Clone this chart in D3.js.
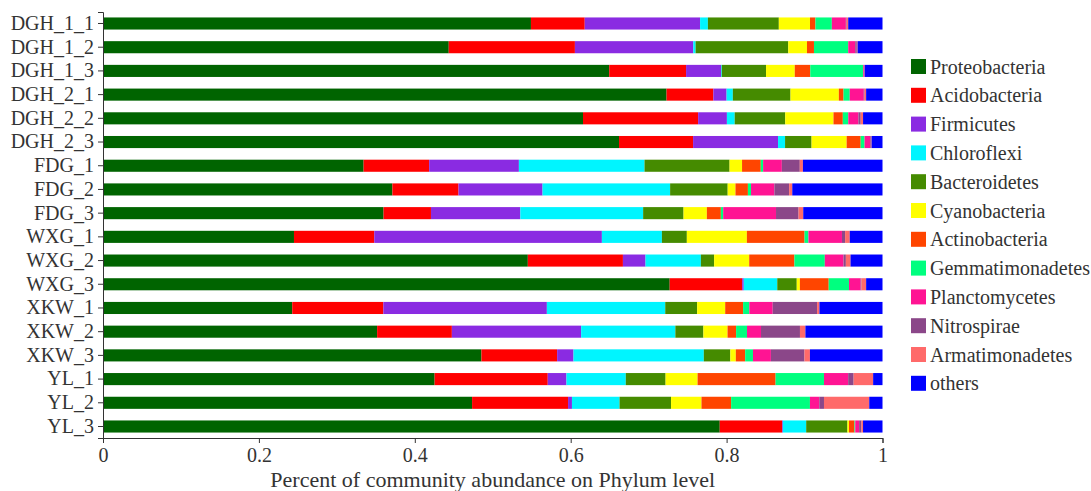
<!DOCTYPE html>
<meta charset="utf-8">
<style>
  body { margin: 0; background: #fff; }
  text { font-family: "Liberation Serif", "Times New Roman", serif; fill: #333; }
  .axis path, .axis line { stroke: #333; }
</style>
<body>
<script src="https://d3js.org/d3.v7.min.js"></script>
<script>
var samples = ["DGH_1_1","DGH_1_2","DGH_1_3","DGH_2_1","DGH_2_2","DGH_2_3",
  "FDG_1","FDG_2","FDG_3","WXG_1","WXG_2","WXG_3",
  "XKW_1","XKW_2","XKW_3","YL_1","YL_2","YL_3"];

var phyla = ["Proteobacteria","Acidobacteria","Firmicutes","Chloroflexi","Bacteroidetes",
  "Cyanobacteria","Actinobacteria","Gemmatimonadetes","Planctomycetes","Nitrospirae",
  "Armatimonadetes","others"];

var colors = ["#006400","#ff0000","#8a2be2","#00f5ff","#458b00","#ffff00",
  "#ff4500","#00ff7f","#ff1493","#8b4789","#ff6a6a","#0000ff"];

// one array per phylum, in sample order
var Proteobacteria   = [0.549,0.444,0.652,0.723,0.617,0.662,0.334,0.372,0.361,0.245,0.545,0.727,0.243,0.352,0.485,0.425,0.473,0.792];
var Acidobacteria    = [0.069,0.162,0.099,0.060,0.148,0.095,0.084,0.085,0.061,0.103,0.122,0.093,0.117,0.096,0.097,0.145,0.123,0.080];
var Firmicutes       = [0.148,0.152,0.045,0.017,0.037,0.109,0.115,0.108,0.115,0.292,0.029,0.002,0.210,0.166,0.021,0.024,0.005,0.001];
var Chloroflexi      = [0.010,0.003,0.001,0.008,0.010,0.009,0.161,0.164,0.158,0.077,0.071,0.043,0.152,0.121,0.167,0.076,0.061,0.030];
var Bacteroidetes    = [0.091,0.119,0.057,0.074,0.065,0.034,0.109,0.074,0.052,0.032,0.017,0.025,0.041,0.036,0.034,0.051,0.066,0.053];
var Cyanobacteria    = [0.040,0.024,0.037,0.062,0.062,0.045,0.016,0.010,0.030,0.077,0.045,0.004,0.036,0.031,0.007,0.041,0.039,0.002];
var Actinobacteria   = [0.007,0.009,0.020,0.006,0.012,0.018,0.024,0.016,0.018,0.074,0.058,0.037,0.023,0.011,0.012,0.100,0.038,0.007];
var Gemmatimonadetes = [0.021,0.044,0.068,0.008,0.007,0.005,0.003,0.004,0.003,0.005,0.039,0.026,0.008,0.014,0.010,0.062,0.101,0.001];
var Planctomycetes   = [0.018,0.009,0.001,0.018,0.013,0.007,0.024,0.030,0.068,0.043,0.024,0.015,0.030,0.018,0.023,0.031,0.012,0.005];
var Nitrospirae      = [0.001,0.002,0.000,0.001,0.003,0.001,0.023,0.019,0.029,0.004,0.003,0.001,0.057,0.050,0.043,0.007,0.006,0.003];
var Armatimonadetes  = [0.002,0.001,0.001,0.002,0.003,0.001,0.004,0.004,0.006,0.006,0.006,0.006,0.003,0.007,0.007,0.025,0.058,0.002];
var others           = [0.044,0.032,0.023,0.021,0.025,0.014,0.102,0.116,0.102,0.042,0.041,0.021,0.081,0.099,0.093,0.012,0.017,0.025];

var series = [Proteobacteria,Acidobacteria,Firmicutes,Chloroflexi,Bacteroidetes,Cyanobacteria,
  Actinobacteria,Gemmatimonadetes,Planctomycetes,Nitrospirae,Armatimonadetes,others];

var xTicks = [0, 0.2, 0.4, 0.6, 0.8, 1];

var width = 1091, height = 491;
var plotLeft = 103, plotRight = 882.5, plotTop = 12, plotBottom = 438;

var rows = samples.map(function(s, i) {
  var r = { sample: s };
  phyla.forEach(function(p, j) { r[p] = series[j][i]; });
  return r;
});

var stack = d3.stack().keys(phyla).offset(d3.stackOffsetExpand);
var layers = stack(rows);

var x = d3.scaleLinear().domain([0, 1]).range([plotLeft, plotRight]);
var y = d3.scaleBand().domain(samples).range([plotTop, plotBottom])
  .paddingInner(0.49).paddingOuter(0.23);
var color = d3.scaleOrdinal().domain(phyla).range(colors);

var svg = d3.select("body").append("svg")
  .attr("width", width)
  .attr("height", height);

svg.append("g")
  .selectAll("g")
  .data(layers)
  .join("g")
  .attr("fill", function(d) { return color(d.key); })
  .selectAll("rect")
  .data(function(d) { return d; })
  .join("rect")
  .attr("x", function(d) { return x(d[0]); })
  .attr("width", function(d) { return Math.max(0, x(d[1]) - x(d[0])); })
  .attr("y", function(d) { return y(d.data.sample); })
  .attr("height", y.bandwidth());

var yAxis = svg.append("g")
  .attr("class", "axis")
  .attr("transform", "translate(" + plotLeft + ",0)")
  .call(d3.axisLeft(y).tickSize(5).tickPadding(4));
yAxis.selectAll("text").style("font-size", "20px");

var xAxis = svg.append("g")
  .attr("class", "axis")
  .attr("transform", "translate(0," + plotBottom + ")")
  .call(d3.axisBottom(x).tickValues(xTicks).tickFormat(d3.format("")).tickSize(5).tickPadding(5));
xAxis.selectAll("text").style("font-size", "20px");

svg.append("text")
  .attr("x", (plotLeft + plotRight) / 2)
  .attr("y", 487)
  .attr("text-anchor", "middle")
  .style("font-size", "22px")
  .text("Percent of community abundance on Phylum level");

var legend = svg.append("g")
  .attr("transform", "translate(911,59)")
  .selectAll("g")
  .data(phyla)
  .join("g")
  .attr("transform", function(d, i) { return "translate(0," + (i * 28.8) + ")"; });

legend.append("rect")
  .attr("width", 15)
  .attr("height", 15)
  .attr("fill", function(d) { return color(d); });

legend.append("text")
  .attr("x", 19)
  .attr("y", 7.5)
  .attr("dy", "0.35em")
  .style("font-size", "20px")
  .text(function(d) { return d; });
</script>
</body>
